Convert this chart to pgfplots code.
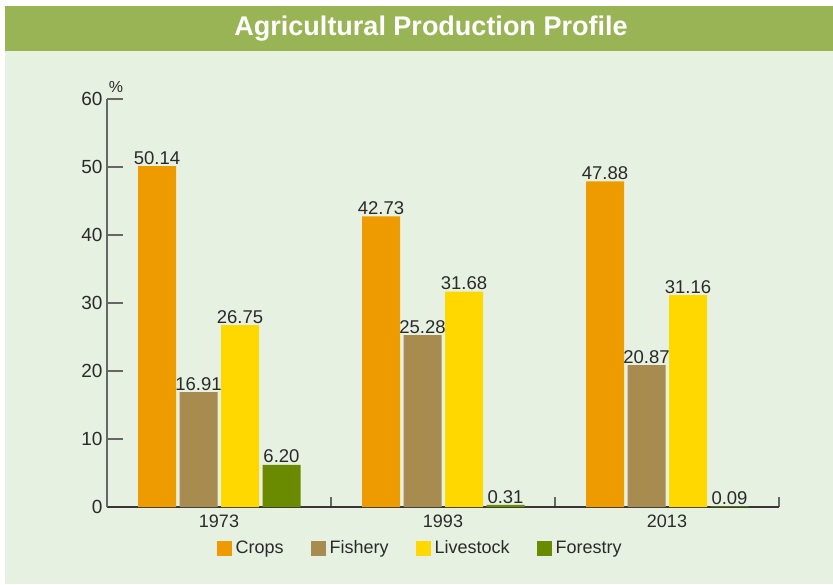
\documentclass[border=0pt]{standalone}
\usepackage{pgfplots}
\pgfplotsset{compat=1.18}
\usepackage{fontspec}
\setmainfont{Liberation Sans}
\definecolor{bg}{HTML}{E6F1E1}
\definecolor{titlebar}{HTML}{98B455}
\definecolor{crops}{HTML}{EE9B00}
\definecolor{fishery}{HTML}{A88C4F}
\definecolor{livestock}{HTML}{FFD800}
\definecolor{forestry}{HTML}{6A8A00}
\definecolor{axisgray}{HTML}{666666}
\definecolor{txt}{HTML}{2A2A2A}
\begin{document}
\begin{tikzpicture}
% background and title bar (picture is 833 x 584 pt, 1pt = 1px)
\fill[white] (0,0) rectangle (833pt,584pt);
\fill[bg] (5pt,0) rectangle (833pt,533pt);
\fill[titlebar] (5pt,533pt) rectangle (833pt,578pt);
\node[white,font=\fontsize{27}{30}\selectfont\bfseries] at (431pt,555pt) {Agricultural Production Profile};
\begin{axis}[
	at={(107pt,77pt)}, anchor=south west,
	scale only axis,
	width=672pt, height=408pt,
	ybar,
	bar width=38pt,
	xmin=-0.5, xmax=2.5,
	ymin=0, ymax=60,
	axis x line*=bottom,
	axis y line*=left,
	x axis line style={txt!80!axisgray, line width=1.4pt},
	y axis line style={axisgray, line width=1.4pt},
	xtick={0,1,2},
	xticklabels={1973,1993,2013},
	major x tick style={draw=none},
	minor xtick={0.5,1.5,2.5},
	minor tick length=10pt,
	minor x tick style={axisgray, line width=1.2pt},
	ytick={0,10,...,60},
	major tick length=16pt,
	tick align=inside,
	y tick style={axisgray, line width=1.2pt},
	tick label style={font=\fontsize{19}{21}\selectfont, text=txt},
	x tick label style={font=\fontsize{18}{20}\selectfont, yshift=-4pt},
	y tick label style={xshift=-1pt},
	/pgf/number format/assume math mode=true,
	nodes near coords,
	every node near coord/.append style={font=\fontsize{18.5}{20}\selectfont, text=txt,
		/pgf/number format/fixed, /pgf/number format/precision=2,
		/pgf/number format/fixed zerofill, inner sep=1.5pt},
	legend columns=4,
	legend style={at={(0.466,0)}, anchor=center, yshift=-41pt,
		draw=none, fill=none, font=\fontsize{18}{20}\selectfont, text=txt,
		/tikz/every even column/.append style={column sep=25pt}},
	legend image code/.code={\fill[#1] (0pt,-7.5pt) rectangle (15pt,7.5pt); \path (17pt,0pt);},
	clip=false,
]
\addplot[draw=none, fill=crops, bar shift=-62pt] coordinates {(0,50.14) (1,42.73) (2,47.88)};
\addplot[draw=none, fill=fishery, bar shift=-20.5pt] coordinates {(0,16.91) (1,25.28) (2,20.87)};
\addplot[draw=none, fill=livestock, bar shift=21pt] coordinates {(0,26.75) (1,31.68) (2,31.16)};
\addplot[draw=none, fill=forestry, bar shift=62.5pt] coordinates {(0,6.20) (1,0.31) (2,0.09)};
\legend{Crops,Fishery,Livestock,Forestry}
\node[text=txt, font=\fontsize{16}{18}\selectfont, anchor=south] at (rel axis cs:0,1) [xshift=9pt, yshift=3pt] {\%};
\end{axis}
\end{tikzpicture}
\end{document}
